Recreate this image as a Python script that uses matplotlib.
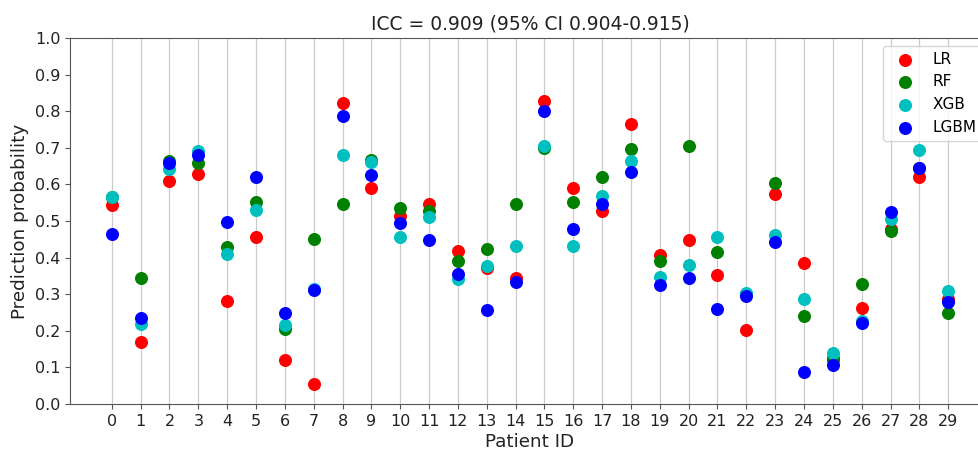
import matplotlib
matplotlib.use('Agg')
import matplotlib.pyplot as plt
import numpy as np

# Data
patient_ids = np.arange(30)

lr = [0.545, 0.169, 0.610, 0.628, 0.282, 0.457, 0.120, 0.056, 0.823, 0.590,
      0.515, 0.546, 0.417, 0.372, 0.345, 0.828, 0.591, 0.527, 0.764, 0.406,
      0.448, 0.353, 0.201, 0.575, 0.386, 0.126, 0.261, 0.478, 0.619, 0.286]
rf = [0.565, 0.345, 0.665, 0.659, 0.429, 0.552, 0.206, 0.452, 0.546, 0.668,
      0.536, 0.528, 0.392, 0.424, 0.547, 0.700, 0.552, 0.620, 0.697, 0.390,
      0.705, 0.416, 0.300, 0.604, 0.241, 0.120, 0.329, 0.472, 0.645, 0.250]
xgb = [0.565, 0.219, 0.643, 0.692, 0.411, 0.530, 0.215, 0.314, 0.681, 0.660,
       0.456, 0.511, 0.341, 0.376, 0.431, 0.706, 0.433, 0.569, 0.664, 0.346,
       0.381, 0.455, 0.303, 0.461, 0.287, 0.138, 0.227, 0.506, 0.694, 0.308]
lgbm = [0.464, 0.235, 0.658, 0.680, 0.497, 0.621, 0.250, 0.311, 0.788, 0.626,
        0.495, 0.447, 0.354, 0.256, 0.333, 0.801, 0.477, 0.546, 0.635, 0.324,
        0.345, 0.259, 0.295, 0.442, 0.087, 0.107, 0.220, 0.525, 0.646, 0.280]

models = ['LR', 'RF', 'XGB', 'LGBM']
colors = ['r', 'g', 'c', 'b']

fig = plt.figure(figsize=(9.79, 4.49), dpi=100)
# axes runs past the right edge, like the cropped reference
ax = fig.add_axes([70 / 979, 45 / 449, 920 / 979, 366 / 449])

for values, name, color in zip([lr, rf, xgb, lgbm], models, colors):
    ax.scatter(patient_ids, values, s=70, c=color, label=name, zorder=3)

ax.set_xlim(-1.45, 30.45)
ax.set_ylim(0, 1)
ax.set_xticks(patient_ids)
ax.set_yticks(np.arange(0, 1.01, 0.1))
ax.tick_params(labelsize=11.5, color='#555555', labelcolor='#222222')
for spine in ax.spines.values():
    spine.set_color('#555555')
ax.spines['right'].set_visible(False)
ax.grid(axis='x', color='#cccccc', linewidth=0.9)
ax.set_axisbelow(True)

ax.set_title('ICC = 0.909 (95% CI 0.904-0.915)', fontsize=13.5, color='#222222')
ax.set_xlabel('Patient ID', fontsize=13.2, color='#222222', labelpad=3)
ax.set_ylabel('Prediction probability', fontsize=13.2, color='#222222')
ax.legend(loc='upper right', fontsize=11)

plt.savefig('out.png', dpi=100)
